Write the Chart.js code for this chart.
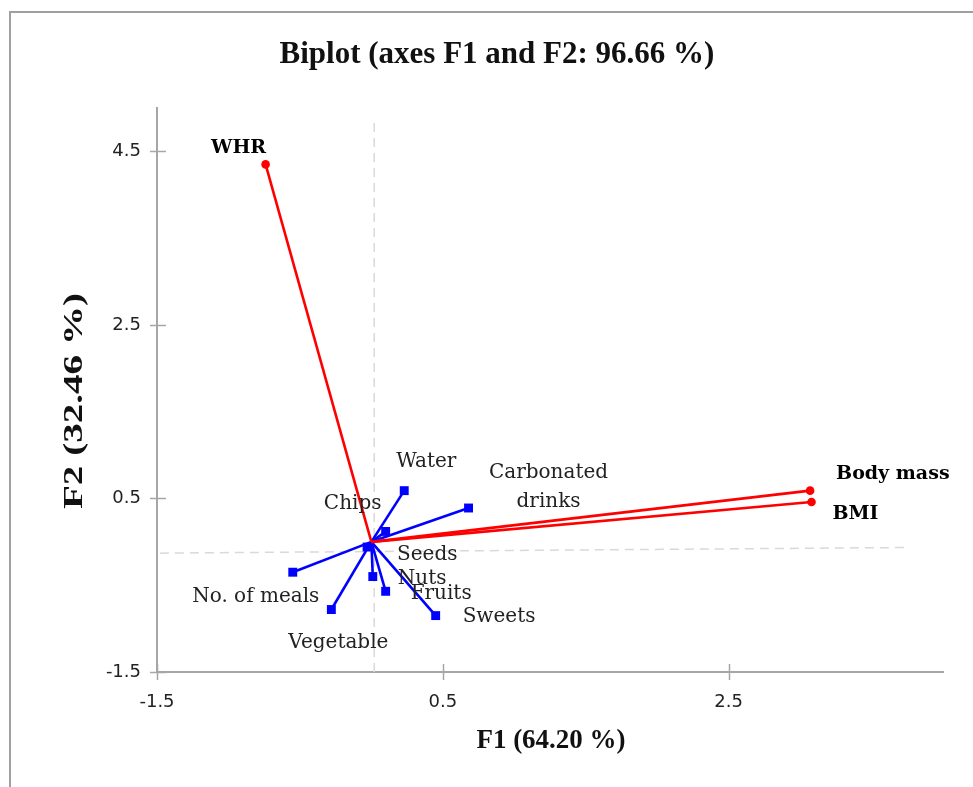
<!DOCTYPE html>
<html>
<head>
<meta charset="utf-8">
<script src="https://cdn.jsdelivr.net/npm/chart.js@4.4.1/dist/chart.umd.min.js"></script>
<style>
  html, body { margin: 0; padding: 0; background: #ffffff; }
  #wrap { width: 973px; height: 787px; }
</style>
</head>
<body>
<div id="wrap"><canvas id="c" width="973" height="787"></canvas></div>
<script>
// ---- Data ----
const chartTitle = 'Biplot (axes F1 and F2: 96.66 %)';
const xAxisTitle = 'F1 (64.20 %)';
const yAxisTitle = 'F2 (32.46 %)';

const varNames = ['WHR', 'Body mass', 'BMI'];
const varF1 = [-0.74, 3.07, 3.08];
const varF2 = [4.35, 0.59, 0.46];

const obsNames = ['Water', 'Carbonated drinks', 'Chips', 'Seeds', 'Nuts', 'Fruits', 'Sweets', 'No. of meals', 'Vegetable'];
const obsF1 = [0.23, 0.68, 0.10, -0.03, 0.01, 0.10, 0.45, -0.55, -0.28];
const obsF2 = [0.59, 0.39, 0.12, -0.06, -0.40, -0.57, -0.85, -0.35, -0.78];

const xTicks = [-1.5, 0.5, 2.5];
const yTicks = [-1.5, 0.5, 2.5, 4.5];
const xRange = [-1.5, 4.0];
const yRange = [-1.5, 5.0];

// reference (dashed) lines through the origin
const vRefX = [0.02, 0.02];
const vRefY = [-1.5, 4.85];
const hRefX = [-1.48, 3.76];
const hRefY = [-0.13, -0.065];

// ---- Styles ----
const RED = '#ff0000';
const BLUE = '#0000ff';
const AXIS = '#a6a6a6';
const DASH = '#d9d9d9';
const labelFont = '20px "DejaVu Serif", serif';
const labelBold = 'bold 19px "DejaVu Serif", serif';

// label placement (pixel offsets from each marker): [dx, dy, align, bold, lines, lineGap]
const labelStyle = {
  'WHR': [-27, -16, 'center', true],
  'Body mass': [26, -17, 'left', true],
  'BMI': [21, 12, 'left', true],
  'Water': [22, -29, 'center'],
  'Carbonated drinks': [80, -35, 'center', false, ['Carbonated', 'drinks'], 29],
  'Chips': [-33, -28, 'center'],
  'Seeds': [30, 8, 'left'],
  'Nuts': [25, 2, 'left'],
  'Fruits': [25, 2, 'left'],
  'Sweets': [27, 1, 'left'],
  'No. of meals': [-37, 25, 'center'],
  'Vegetable': [7, 33, 'center']
};

// ---- Datasets ----
const datasets = [];
datasets.push({
  label: 'vref', data: vRefX.map((x, i) => ({x, y: vRefY[i]})), showLine: true,
  borderColor: DASH, borderWidth: 1.5, borderDash: [9, 6], pointRadius: 0, order: 10
});
datasets.push({
  label: 'href', data: hRefX.map((x, i) => ({x, y: hRefY[i]})), showLine: true,
  borderColor: DASH, borderWidth: 1.5, borderDash: [9, 6], pointRadius: 0, order: 10
});
obsNames.forEach((n, i) => {
  datasets.push({
    label: n, data: [{x: 0, y: 0}, {x: obsF1[i], y: obsF2[i]}], showLine: true,
    borderColor: BLUE, backgroundColor: BLUE, borderWidth: 2.6,
    pointStyle: 'rect', pointRadius: [0, 6.3], pointBorderWidth: 0, order: 2
  });
});
varNames.forEach((n, i) => {
  datasets.push({
    label: n, data: [{x: 0, y: 0}, {x: varF1[i], y: varF2[i]}], showLine: true,
    borderColor: RED, backgroundColor: RED, borderWidth: 2.6,
    pointStyle: 'circle', pointRadius: [0, 4.3], pointBorderWidth: 0, order: 1
  });
});

const decor = {
  id: 'decor',
  beforeDraw(chart) {
    const ctx = chart.ctx;
    ctx.save();
    ctx.fillStyle = '#fff';
    ctx.fillRect(0, 0, chart.width, chart.height);
    // frame
    ctx.strokeStyle = '#a0a0a0';
    ctx.lineWidth = 2;
    ctx.beginPath();
    ctx.moveTo(10, 787); ctx.lineTo(10, 12); ctx.lineTo(973, 12);
    ctx.stroke();
    ctx.restore();
  },
  afterDraw(chart) {
    const ctx = chart.ctx;
    const xs = chart.scales.x, ys = chart.scales.y;
    ctx.save();
    // crossing tick marks
    ctx.strokeStyle = AXIS; ctx.lineWidth = 1.5;
    const y0 = ys.getPixelForValue(yRange[0]);
    const x0 = xs.getPixelForValue(xRange[0]);
    xTicks.forEach(v => {
      const px = Math.round(xs.getPixelForValue(v)) + 0.5;
      ctx.beginPath(); ctx.moveTo(px, y0 - 8); ctx.lineTo(px, y0 + 8); ctx.stroke();
    });
    yTicks.forEach(v => {
      const py = Math.round(ys.getPixelForValue(v)) + 0.5;
      ctx.beginPath(); ctx.moveTo(x0 - 7, py); ctx.lineTo(x0 + 9, py); ctx.stroke();
    });
    // title
    ctx.fillStyle = '#111';
    ctx.textAlign = 'center'; ctx.textBaseline = 'middle';
    ctx.font = 'bold 31px "Liberation Serif", serif';
    ctx.fillText(chartTitle, 497, 55);
    // axis titles
    ctx.font = 'bold 27px "Liberation Serif", serif';
    ctx.fillText(xAxisTitle, 551, 741);
    ctx.save();
    ctx.translate(75, 401);
    ctx.rotate(-Math.PI / 2);
    ctx.font = 'bold 27px "Liberation Serif", serif';
    const w = ctx.measureText(yAxisTitle).width;
    ctx.scale(216 / w, 1);
    ctx.fillText(yAxisTitle, 0, 0);
    ctx.restore();
    // point labels
    const put = (name, x, y) => {
      const st = labelStyle[name];
      const px = xs.getPixelForValue(x) + st[0];
      const py = ys.getPixelForValue(y) + st[1];
      ctx.font = st[3] ? labelBold : labelFont;
      ctx.textAlign = st[2];
      ctx.fillStyle = st[3] ? '#000' : '#222';
      const lines = st[4] || [name];
      lines.forEach((t, k) => ctx.fillText(t, px, py + k * (st[5] || 0)));
    };
    varNames.forEach((n, i) => put(n, varF1[i], varF2[i]));
    obsNames.forEach((n, i) => put(n, obsF1[i], obsF2[i]));
    ctx.restore();
  }
};

new Chart(document.getElementById('c'), {
  type: 'scatter',
  data: { datasets },
  options: {
    responsive: false,
    animation: false,
    devicePixelRatio: 1,
    layout: { padding: { left: 0, top: 108, right: 30, bottom: 0 } },
    plugins: { legend: { display: false }, tooltip: { enabled: false }, title: { display: false } },
    scales: {
      x: {
        type: 'linear', min: xRange[0], max: xRange[1],
        afterBuildTicks: s => { s.ticks = xTicks.map(v => ({value: v})); },
        afterFit: s => { s.height = 115; },
        grid: { display: false, drawTicks: false },
        border: { display: true, color: AXIS, width: 2 },
        ticks: { padding: 20, color: '#222', font: { family: '"DejaVu Sans", sans-serif', size: 18 },
                 callback: v => String(v), maxRotation: 0, autoSkip: false }
      },
      y: {
        type: 'linear', min: yRange[0], max: yRange[1],
        afterBuildTicks: s => { s.ticks = yTicks.map(v => ({value: v})); },
        afterFit: s => { s.width = 157; },
        grid: { display: false, drawTicks: false },
        border: { display: true, color: AXIS, width: 2 },
        ticks: { padding: 16, color: '#222', font: { family: '"DejaVu Sans", sans-serif', size: 18 },
                 callback: v => String(v), autoSkip: false }
      }
    }
  },
  plugins: [decor]
});
</script>
</body>
</html>
